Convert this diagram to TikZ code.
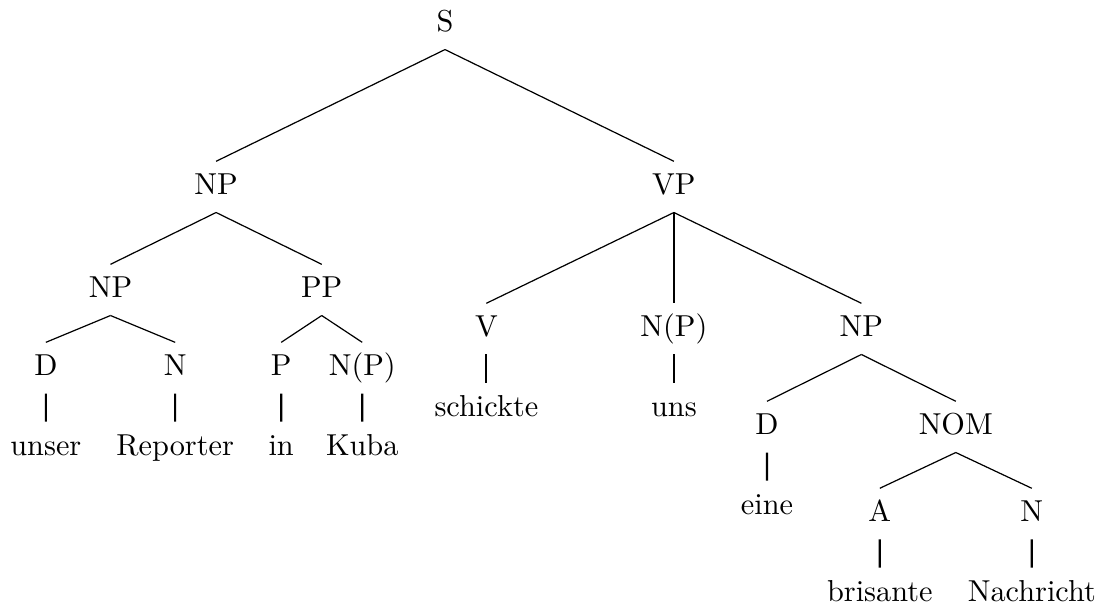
\documentclass[tikz,border=0pt]{standalone}
\usepackage{tikz}

\begin{document}
\begin{tikzpicture}[level distance=0.92cm,
  every node/.style={text height=6.9pt, text depth=1.6pt, inner ysep=4pt, inner xsep=1pt},
  edge from parent path={(\tikzparentnode.south) -- (\tikzchildnode.north)},
  vbar/.style={edge from parent/.append style={line width=0.7pt}},
  leaf/.style={vbar, level distance=0.92cm},
  level 1/.style={sibling distance=5.31cm, level distance=1.89cm}]
  \useasboundingbox (-5.162,-6.774) rectangle (7.656,0.278);
  \node (s) {S}
  child { node (np) {NP} [sibling distance=2.45cm, level distance=1.195cm]
     child { node (npa) {NP} [sibling distance=1.5cm, level distance=0.905cm]
        child { node (da) {D} child[leaf] { node (unser) {unser} } }
        child { node (na) {N} child[leaf] { node (reporter) {Reporter} } }
     }
     child { node (pp) {PP} [sibling distance=0.94cm, level distance=0.905cm]
        child { node (p) {P} child[leaf] { node (in) {in} } }
        child { node (npb) {N(P)} child[leaf] { node (kuba) {Kuba} } }
     }
  }
  child { node (vp) {VP} [sibling distance=2.175cm, level distance=1.647cm]
     child { node (v) {V} child[leaf] { node (schickte) {schickte} } }
     child[vbar] { node (npc) {N(P)} child[leaf] { node (uns) {uns} } }
     child { node (npd) {NP} [sibling distance=2.19cm, level distance=1.137cm]
        child { node (db) {D} child[leaf] { node (eine) {eine} } }
        child { node (nom) {NOM} [sibling distance=1.763cm, level distance=1.009cm]
           child { node (a) {A} child[leaf] { node (brisante) {brisante} } }
           child { node (nb) {N} child[leaf] { node (nachricht) {Nachricht} } }
        }
     }
  };
\end{tikzpicture}
\end{document}
